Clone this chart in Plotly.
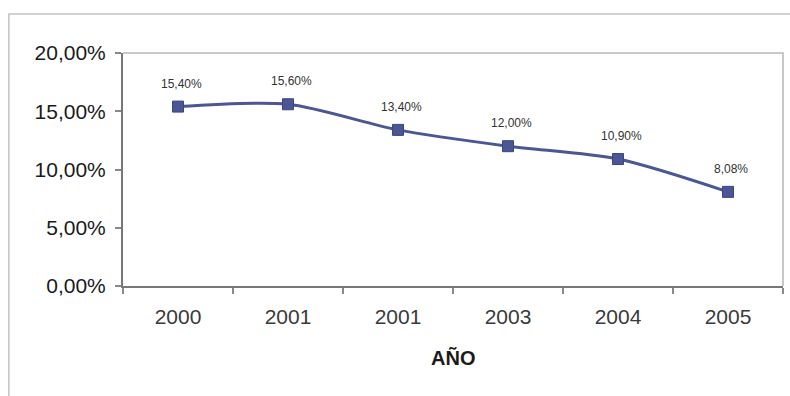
import plotly.graph_objects as go

years = ["2000", "2001", "2001", "2003", "2004", "2005"]
values = [0.1540, 0.1560, 0.1340, 0.1200, 0.1090, 0.0808]
y_ticks = [0, 0.05, 0.10, 0.15, 0.20]

x = list(range(len(years)))
COLOR = "#4a5794"

fig = go.Figure()
fig.add_trace(go.Scatter(
    x=x, y=values, mode="lines+markers",
    line=dict(color=COLOR, width=3, shape="spline", smoothing=0.8),
    marker=dict(symbol="square", size=11, color=COLOR, line=dict(color="#3a4680", width=1)),
    hoverinfo="skip", showlegend=False,
))

def fmt(v):
    return f"{v*100:.2f}%".replace(".", ",")

for xi, v in zip(x, values):
    fig.add_annotation(x=xi, y=v, text=fmt(v), showarrow=False, yshift=23, xshift=3,
                       font=dict(family="Liberation Sans, Arial", size=12, color="#333333"))

fig.add_annotation(xref="paper", yref="paper", x=0.5, y=-0.309, text="<b>AÑO</b>",
                   showarrow=False, yanchor="middle",
                   font=dict(family="Liberation Sans, Arial", size=20, color="#1a1a1a"))

# outer chart frame
fig.add_shape(type="path", xref="paper", yref="paper",
              path="M -0.173,-1 L -0.173,1.167 L 1.2,1.167",
              line=dict(color="#c4c4c4", width=1.5))
# plot area top/right border
fig.add_shape(type="path", xref="paper", yref="paper",
              path="M 0,1 L 1,1 L 1,0", line=dict(color="#b8b8b8", width=1.5))

fig.update_layout(
    width=790, height=396,
    margin=dict(l=123, r=7, t=53, b=110),
    paper_bgcolor="white", plot_bgcolor="white",
    separators=",.",
    font=dict(family="Liberation Sans, Arial", color="#222222"),
    xaxis=dict(
        range=[-0.5, len(years) - 0.5], tickmode="array", tickvals=x, ticktext=years,
        ticks="", showgrid=False, zeroline=False, showline=True, linecolor="#777777", linewidth=2,
        tickfont=dict(size=21, color="#3a3a3a"), ticklabelstandoff=11,
        minor=dict(tickmode="array", tickvals=[i + 0.5 for i in range(-1, len(years))],
                   ticks="outside", ticklen=6, tickcolor="#888888", tickwidth=1.5, showgrid=False),
    ),
    yaxis=dict(
        range=[0, 0.20], tickmode="array", tickvals=y_ticks, tickformat=".2%",
        ticks="outside", ticklen=6, tickcolor="#888888", tickwidth=1.5,
        showgrid=False, zeroline=False, showline=True, linecolor="#777777", linewidth=2,
        tickfont=dict(size=21, color="#1a1a1a"), ticklabelstandoff=5,
    ),
)

fig.write_html("out.html")
